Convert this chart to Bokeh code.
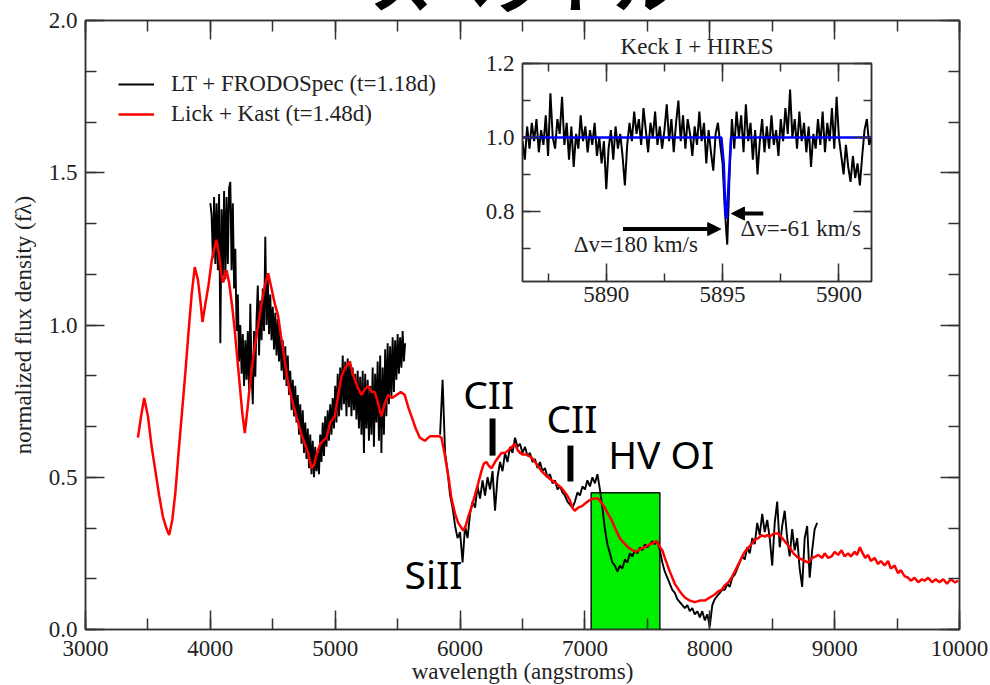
from bokeh.plotting import figure
from bokeh.models import (Column, LinearAxis, SingleIntervalTicker, PrintfTickFormatter,
                          Legend, LegendItem, Arrow, NormalHead, Div)
from bokeh.core.properties import value
from bokeh.embed import file_html
from bokeh.resources import INLINE

# ---------------- data ----------------
# Lick + Kast (red), wavelength in angstroms, normalized flux
red_pts = [
    (3420, 0.63), (3445, 0.70), (3470, 0.76), (3500, 0.70), (3530, 0.60), (3560, 0.52),
    (3590, 0.44), (3620, 0.37), (3650, 0.33), (3670, 0.31), (3695, 0.36), (3720, 0.45),
    (3745, 0.58), (3770, 0.70), (3795, 0.82), (3820, 0.95), (3850, 1.10), (3875, 1.19),
    (3900, 1.15), (3920, 1.08), (3937, 1.01), (3960, 1.07), (3985, 1.13), (4010, 1.21),
    (4030, 1.25), (4049, 1.28), (4070, 1.23), (4090, 1.16), (4103, 1.14), (4129, 1.18),
    (4150, 1.14), (4175, 1.06), (4196, 0.98), (4216, 0.89), (4236, 0.80), (4256, 0.71),
    (4276, 0.645), (4296, 0.72), (4316, 0.80), (4336, 0.87), (4356, 0.93), (4383, 1.00),
    (4410, 1.07), (4437, 1.13), (4463, 1.17), (4490, 1.12), (4516, 1.07), (4543, 1.03),
    (4563, 0.97), (4583, 0.92), (4603, 0.86), (4623, 0.81), (4650, 0.76), (4676, 0.72),
    (4703, 0.68), (4730, 0.64), (4757, 0.61), (4783, 0.58), (4810, 0.53), (4830, 0.54),
    (4855, 0.58), (4880, 0.61), (4905, 0.62), (4930, 0.63), (4960, 0.68), (4997, 0.70),
    (5020, 0.76), (5050, 0.83), (5080, 0.86), (5117, 0.88), (5140, 0.84), (5157, 0.82),
    (5185, 0.79), (5210, 0.77), (5240, 0.79), (5264, 0.80), (5290, 0.78), (5317, 0.78),
    (5345, 0.74), (5370, 0.70), (5395, 0.74), (5424, 0.77), (5455, 0.76), (5491, 0.77),
    (5525, 0.78), (5557, 0.77), (5585, 0.73), (5611, 0.70), (5645, 0.66), (5678, 0.63),
    (5718, 0.62), (5760, 0.635), (5798, 0.635), (5830, 0.635), (5851, 0.63), (5875, 0.58),
    (5891, 0.54), (5911, 0.49), (5931, 0.43), (5960, 0.38), (5985, 0.35), (6025, 0.325),
    (6045, 0.34), (6065, 0.37), (6090, 0.40), (6118, 0.44), (6145, 0.48), (6171, 0.52),
    (6190, 0.545), (6211, 0.55), (6235, 0.535), (6252, 0.53), (6280, 0.55), (6305, 0.565),
    (6332, 0.58), (6360, 0.58), (6390, 0.59), (6415, 0.60), (6439, 0.61), (6460, 0.59),
    (6480, 0.58), (6500, 0.575), (6530, 0.575), (6572, 0.565), (6610, 0.545), (6652, 0.52),
    (6690, 0.505), (6732, 0.49), (6770, 0.48), (6812, 0.465), (6850, 0.445), (6879, 0.425),
    (6900, 0.40), (6919, 0.39), (6945, 0.40), (6975, 0.405), (7005, 0.415), (7039, 0.425),
    (7070, 0.43), (7106, 0.43), (7135, 0.415), (7159, 0.40), (7185, 0.38), (7213, 0.36),
    (7245, 0.33), (7279, 0.30), (7310, 0.285), (7346, 0.27), (7380, 0.26), (7413, 0.255),
    (7445, 0.265), (7480, 0.27), (7520, 0.28), (7550, 0.285), (7573, 0.29), (7600, 0.27),
    (7620, 0.26), (7640, 0.235), (7680, 0.19), (7720, 0.15), (7760, 0.125), (7800, 0.105),
    (7840, 0.095), (7880, 0.09), (7920, 0.095), (7960, 0.095), (8000, 0.105), (8040, 0.115),
    (8067, 0.125), (8094, 0.13), (8120, 0.145), (8150, 0.155), (8174, 0.17), (8200, 0.19),
    (8230, 0.215), (8254, 0.235), (8280, 0.255), (8310, 0.27), (8334, 0.28), (8360, 0.295),
    (8390, 0.30), (8414, 0.31), (8440, 0.305), (8460, 0.31), (8481, 0.305), (8510, 0.315),
    (8548, 0.315), (8580, 0.30), (8610, 0.285), (8640, 0.27), (8670, 0.25), (8708, 0.235),
    (8740, 0.23), (8760, 0.225), (8788, 0.22), (8820, 0.235), (8850, 0.24), (8870, 0.245),
    (8900, 0.235), (8920, 0.25), (8948, 0.235), (8975, 0.24), (9000, 0.255), (9028, 0.245),
    (9055, 0.26), (9080, 0.24), (9108, 0.25), (9130, 0.24), (9160, 0.255), (9180, 0.245),
    (9202, 0.27), (9225, 0.25), (9245, 0.235), (9268, 0.245), (9290, 0.225), (9320, 0.235),
    (9348, 0.215), (9370, 0.225), (9400, 0.21), (9428, 0.225), (9450, 0.20), (9480, 0.21),
    (9508, 0.185), (9530, 0.195), (9560, 0.175), (9589, 0.17), (9610, 0.16), (9640, 0.17),
    (9669, 0.155), (9700, 0.165), (9720, 0.16), (9749, 0.17), (9780, 0.155), (9810, 0.165),
    (9840, 0.155), (9870, 0.165), (9900, 0.15), (9930, 0.165), (9962, 0.155), (9990, 0.16),
]
red_wl = [a for a, b in red_pts]
red_fl = [b for a, b in red_pts]

# LT + FRODOSpec (black): blue arm every 10 A from 4000 A, red arm every 20 A from 5840 A
black_blue_start, black_blue_step = 4000, 10
black_red_start, black_red_step = 5840, 20
black_blue_fl = [
    1.40, 1.36, 1.22, 1.42, 1.20, 1.40, 1.18, 1.43, 0.94, 1.38,
    1.16, 1.44, 1.15, 1.42, 1.20, 1.45, 1.47, 1.18, 1.40, 1.12,
    1.25, 0.98, 1.10, 0.88, 1.00, 0.84, 0.97, 0.80, 0.95, 0.82,
    0.98, 0.78, 1.07, 0.85, 0.74, 0.98, 0.83, 1.02, 1.13, 0.90,
    1.08, 0.95, 1.12, 0.98, 1.29, 1.00, 1.15, 0.97, 1.10, 0.95,
    1.06, 0.92, 1.04, 0.90, 1.02, 0.88, 0.98, 0.85, 0.95, 0.82,
    0.93, 0.80, 0.90, 0.77, 0.85, 0.72, 0.82, 0.70, 0.80, 0.68,
    0.77, 0.64, 0.74, 0.61, 0.72, 0.58, 0.68, 0.56, 0.66, 0.53,
    0.64, 0.51, 0.62, 0.50, 0.60, 0.52, 0.58, 0.51, 0.64, 0.55,
    0.68, 0.57, 0.70, 0.60, 0.72, 0.62, 0.74, 0.64, 0.76, 0.66,
    0.80, 0.68, 0.84, 0.70, 0.86, 0.72, 0.90, 0.74, 0.88, 0.70,
    0.89, 0.73, 0.88, 0.70, 0.86, 0.72, 0.84, 0.69, 0.85, 0.66,
    0.83, 0.64, 0.85, 0.58, 0.84, 0.66, 0.82, 0.62, 0.80, 0.64,
    0.86, 0.60, 0.84, 0.68, 0.88, 0.62, 0.90, 0.58, 0.86, 0.64,
    0.92, 0.70, 0.94, 0.74, 0.93, 0.76, 0.96, 0.78, 0.95, 0.82,
    0.97, 0.84, 0.96, 0.86, 0.98, 0.88, 0.94,
]
black_red_fl = [
    0.64, 0.82, 0.58, 0.52, 0.44, 0.40, 0.34, 0.30, 0.32, 0.22,
    0.34, 0.30, 0.38, 0.42, 0.40, 0.47, 0.43, 0.49, 0.44, 0.50,
    0.46, 0.52, 0.39, 0.50, 0.55, 0.52, 0.58, 0.55, 0.60, 0.58,
    0.63, 0.60, 0.61, 0.58, 0.60, 0.57, 0.58, 0.55, 0.56, 0.53,
    0.55, 0.52, 0.53, 0.50, 0.51, 0.48, 0.49, 0.46, 0.47, 0.45,
    0.44, 0.42, 0.41, 0.40, 0.42, 0.45, 0.44, 0.47, 0.46, 0.49,
    0.47, 0.50, 0.48, 0.51, 0.46, 0.40, 0.33, 0.28, 0.25, 0.22,
    0.21, 0.19, 0.21, 0.20, 0.23, 0.22, 0.25, 0.24, 0.26, 0.25,
    0.27, 0.26, 0.28, 0.27, 0.28, 0.29, 0.28, 0.29, 0.26, 0.22,
    0.19, 0.17, 0.15, 0.13, 0.12, 0.10, 0.09, 0.08, 0.07, 0.08,
    0.06, 0.07, 0.05, 0.06, 0.04, 0.06, 0.03, 0.05, 0.01, 0.08,
    0.10, 0.11, 0.12, 0.13, 0.13, 0.15, 0.14, 0.17, 0.18, 0.20,
    0.22, 0.24, 0.23, 0.27, 0.25, 0.30, 0.28, 0.35, 0.31, 0.38,
    0.32, 0.36, 0.30, 0.21, 0.35, 0.42, 0.27, 0.34, 0.39, 0.30,
    0.24, 0.33, 0.26, 0.30, 0.20, 0.14, 0.30, 0.34, 0.17, 0.26,
    0.33, 0.35,
]
black_blue_wl = [black_blue_start + black_blue_step * i for i in range(len(black_blue_fl))]
black_red_wl = [black_red_start + black_red_step * i for i in range(len(black_red_fl))]

# Keck I + HIRES inset (Na I D region), 0.1 A sampling from 5886.4 A
hires_start, hires_step = 5886.4, 0.1
hires_fl = [
    0.99, 0.94, 1.03, 0.97, 1.04, 0.99, 1.05, 0.96, 1.02, 0.98,
    1.06, 0.95, 1.12, 1.00, 0.97, 1.05, 1.01, 1.11, 0.98, 1.04,
    0.94, 1.03, 0.92, 1.01, 0.97, 1.06, 0.99, 1.03, 0.96, 1.02,
    0.98, 1.04, 0.95, 1.00, 0.93, 0.99, 0.86, 0.97, 1.02, 0.94,
    1.03, 0.97, 1.01, 0.95, 0.87, 0.98, 1.04, 0.99, 1.07, 1.01,
    1.05, 0.98, 1.08, 1.02, 0.96, 1.04, 1.00, 1.07, 0.98, 1.03,
    0.97, 1.02, 1.09, 0.99, 1.05, 0.96, 1.04, 1.10, 0.99, 1.06,
    0.97, 1.05, 1.01, 0.95, 1.03, 0.98, 1.07, 0.99, 1.04, 0.93,
    1.02, 0.96, 0.91, 1.01, 1.04, 0.98, 0.93, 0.80, 0.71, 0.90,
    1.05, 0.97, 1.07, 1.00, 1.06, 0.96, 1.09, 0.99, 1.04, 0.94,
    1.02, 0.90, 0.99, 1.05, 0.96, 1.03, 0.97, 1.06, 0.98, 1.02,
    0.95, 1.05, 0.99, 1.08, 1.01, 1.13, 1.00, 1.05, 0.97, 1.07,
    0.99, 1.04, 0.96, 1.03, 0.92, 1.01, 0.97, 1.05, 0.98, 1.07,
    0.96, 1.04, 0.99, 1.08, 0.97, 1.11, 1.00, 0.95, 0.90, 0.98,
    0.92, 0.88, 0.95, 0.89, 0.93, 0.87, 0.95, 1.02, 1.05, 0.98,
    1.00,
]
hires_wl = [round(hires_start + hires_step * i, 2) for i in range(len(hires_fl))]
model_wl = [5886.4, 5894.95, 5895.05, 5895.12, 5895.18, 5895.26, 5895.36, 5901.4]
model_fl = [1.0, 1.0, 0.93, 0.80, 0.78, 0.88, 1.0, 1.0]

# annotations
slide_title = "\u30b9\u30da\u30af\u30c8\u30eb"
line_names = ["SiII", "CII", "CII", "HV OI"]
line_name_wl = [5555, 6025, 6692, 7186]
line_name_fl = [0.184, 0.775, 0.696, 0.578]
marker_wl = [6260, 6884]
marker_lo = [0.571, 0.486]
marker_hi = [0.693, 0.604]
hv_oi_band = (7050, 7600, 0.449)

legend_labels = ["LT + FRODOSpec (t=1.18d)", "Lick + Kast (t=1.48d)"]
vel_labels = ["\u0394v=180 km/s", "\u0394v=-61 km/s"]
vel_label_wl = [5888.6, 5895.77]
vel_label_fl = [0.710, 0.754]
arrow_180 = (5890.72, 5894.92, 0.752)
arrow_61 = (5896.75, 5895.38, 0.794)

SERIF = "Liberation Serif"
TXT = "#222222"
FS = "23px"
AX = "#333333"


def style_axis(ax, tin, tmin):
    ax.major_tick_in = tin
    ax.major_tick_out = 0
    ax.minor_tick_in = tmin
    ax.minor_tick_out = 0
    ax.major_tick_line_width = 1.5
    ax.minor_tick_line_width = 1.5
    ax.major_tick_line_color = AX
    ax.minor_tick_line_color = AX
    ax.axis_line_color = AX
    ax.axis_line_width = 1.5
    ax.major_label_text_font = SERIF
    ax.major_label_text_color = TXT
    ax.major_label_text_font_size = FS
    ax.axis_label_text_font = SERIF
    ax.axis_label_text_font_style = "normal"
    ax.axis_label_text_color = TXT
    ax.axis_label_text_font_size = FS


def mirror_axis(ticker):
    return LinearAxis(ticker=ticker, formatter=PrintfTickFormatter(format=""),
                      major_label_standoff=0)


# ---------------- main figure ----------------
main = figure(frame_width=874, frame_height=609, x_range=(3000, 10000), y_range=(0, 2.0),
              output_backend="svg", toolbar_location=None,
              min_border_left=84, min_border_right=32, min_border_top=20, min_border_bottom=56,
              x_axis_label="wavelength (angstroms)",
              y_axis_label="normalized flux density (f\u03bb)")
main.grid.visible = False
main.outline_line_color = AX
main.outline_line_width = 1.5
xb = main.below[0]
yl = main.left[0]
xt = SingleIntervalTicker(interval=1000, num_minor_ticks=2)
yt = SingleIntervalTicker(interval=0.5, num_minor_ticks=3)
xb.ticker = xt
yl.ticker = yt
xb.formatter = PrintfTickFormatter(format="%d")
yl.formatter = PrintfTickFormatter(format="%.1f")
xa = mirror_axis(xt)
yr = mirror_axis(yt)
main.add_layout(xa, "above")
main.add_layout(yr, "right")
for ax in (xb, yl, xa, yr):
    style_axis(ax, 19, 11)
xa.major_label_text_font_size = "2px"
yr.major_label_text_font_size = "2px"
xb.major_label_standoff = 11
xb.axis_label_standoff = 0
yl.major_label_standoff = 8
yl.axis_label_standoff = 10

# HV OI box
main.quad(left=[hv_oi_band[0]], right=[hv_oi_band[1]], bottom=[0], top=[hv_oi_band[2]],
          fill_color="#00ee00", line_color="#111111", line_width=1.5)

r_black1 = main.line(black_blue_wl, black_blue_fl, line_color="black", line_width=1.9)
main.line(black_red_wl, black_red_fl, line_color="black", line_width=1.9)
r_red = main.line(red_wl, red_fl, line_color="#ff0000", line_width=2.5)

main.segment(x0=marker_wl, y0=marker_lo, x1=marker_wl, y1=marker_hi,
             line_color="black", line_width=6)
main.text(x=line_name_wl, y=line_name_fl, text=line_names, text_font=value("Noto Sans"),
          text_font_size="39px", text_color="black", text_baseline="alphabetic",
          text_align="left")

legend = Legend(items=[LegendItem(label=legend_labels[0], renderers=[r_black1]),
                       LegendItem(label=legend_labels[1], renderers=[r_red])],
                location=(23, 492))
legend.margin = 0
legend.padding = 10
legend.spacing = 4
legend.glyph_width = 36
legend.label_standoff = 17
legend.label_text_font = SERIF
legend.label_text_font_size = FS
legend.label_text_color = TXT
legend.background_fill_alpha = 0
legend.border_line_alpha = 0
main.add_layout(legend)

# ---------------- inset ----------------
inset = figure(frame_width=349, frame_height=218, x_range=(5886.4, 5901.4), y_range=(0.61, 1.2005),
               output_backend="svg", toolbar_location=None, title="Keck I + HIRES",
               min_border_left=85, min_border_right=8, min_border_top=25, min_border_bottom=28)
inset.grid.visible = False
inset.outline_line_color = AX
inset.outline_line_width = 1.5
inset.background_fill_alpha = 0
inset.border_fill_alpha = 0
inset.title.align = "center"
inset.title.text_font = SERIF
inset.title.text_font_style = "normal"
inset.title.text_font_size = FS
inset.title.text_color = TXT
ixb = inset.below[0]
iyl = inset.left[0]
ixt = SingleIntervalTicker(interval=5, num_minor_ticks=2)
iyt = SingleIntervalTicker(interval=0.2, num_minor_ticks=2)
ixb.ticker = ixt
iyl.ticker = iyt
ixb.formatter = PrintfTickFormatter(format="%d")
iyl.formatter = PrintfTickFormatter(format="%.1f")
ixa = mirror_axis(ixt)
iyr = mirror_axis(iyt)
inset.add_layout(ixa, "above")
inset.add_layout(iyr, "right")
for ax in (ixb, iyl, ixa, iyr):
    style_axis(ax, 18, 8)
ixa.major_label_text_font_size = "2px"
iyr.major_label_text_font_size = "2px"
ixb.major_label_standoff = 5
iyl.major_label_standoff = 8

inset.line(hires_wl, hires_fl, line_color="black", line_width=2)
inset.line(model_wl, model_fl, line_color="#0000ff", line_width=2.5)
for a in (arrow_180, arrow_61):
    inset.add_layout(Arrow(end=NormalHead(size=13, fill_color="black", line_color="black"),
                           x_start=a[0], x_end=a[1], y_start=a[2], y_end=a[2],
                           line_width=4, line_color="black"))
inset.text(x=vel_label_wl, y=vel_label_fl, text=vel_labels, text_font=value(SERIF),
           text_font_size=FS, text_color=TXT, text_baseline="alphabetic", text_align="left")
inset.styles = {"position": "absolute", "left": "437px", "top": "26px"}

# slide heading, only its lower edge shows at the top of the page
heading = Div(text=('<span style="font-family:\'Noto Sans CJK JP\';font-weight:bold;'
                    'font-size:62px;line-height:62px;color:black;white-space:nowrap">'
                    + slide_title + '</span>'),
              styles={"position": "absolute", "left": "365px", "top": "-55px"})

p = Column(children=[main, inset, heading], styles={"position": "relative"})

open("out.html", "w").write(file_html(p, INLINE))
